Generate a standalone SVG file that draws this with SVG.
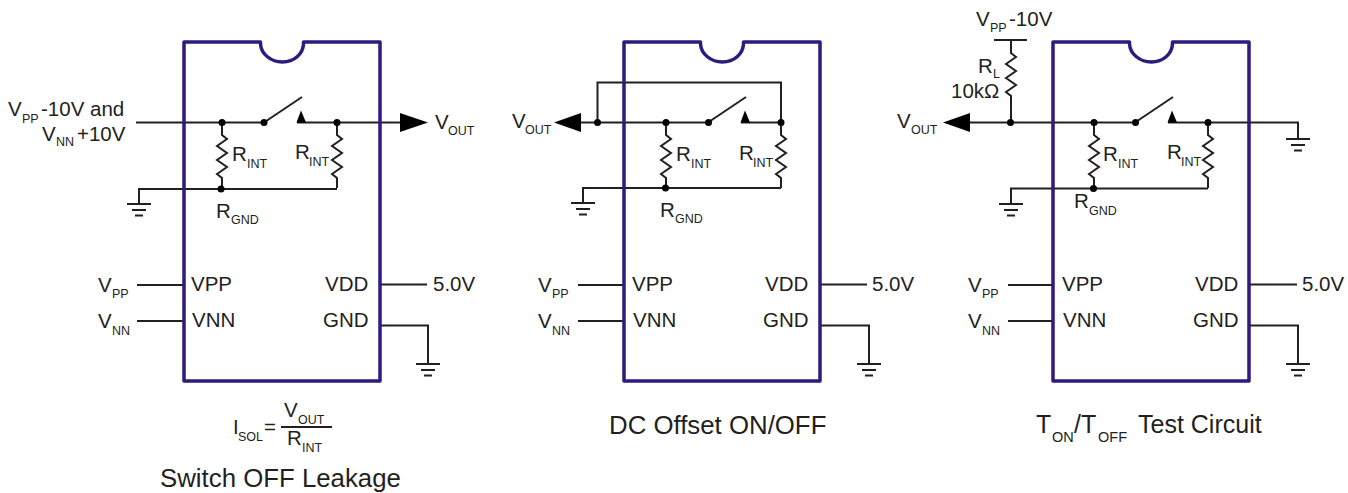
<svg xmlns="http://www.w3.org/2000/svg" width="1348" height="493" viewBox="0 0 1348 493">
<style>
text{font-family:"Liberation Sans",Arial,sans-serif;font-size:20.500px;fill:#231f20}
.s{font-size:12.500px}
.b{font-size:14.500px}
.t{font-size:25.800px}
.c{font-size:25px}
.chip{fill:none;stroke:#2f1a7f;stroke-width:3.500;stroke-linejoin:round}
.w{fill:none;stroke:#231f20;stroke-width:2;stroke-linejoin:miter}
.f{fill:#000;stroke:none}
</style>
<defs>
<g id="gnd"><path class="w" d="M0 0V14M-12 15H12M-7 21H7M-4 26.500H4"/></g>
<path id="res" class="w" d="M0 0V13L5 17L-5 24L5 31L-5 38L5 45L-5 52L0 56V66"/>
<circle id="dot" class="f" r="3.500"/>
<path id="chipbody" class="chip" d="M0 0H76.500V2C77 12 87 20 98.500 20C110 20 119 12 119.500 2V0H196V339H0Z"/>
</defs>
<g id="connectors">
<path class="w" d="M136 122.500H264M297 122.500H402"/>
<path class="w" d="M302 97L264 122.500"/>
<path class="f" d="M296.500 122.500L301 110.500L306 122.500Z"/>
<path class="f" d="M400 113L428 122.500L400 132Z"/>
<use href="#res" x="222" y="122"/><use href="#res" x="337" y="122"/>
<path class="w" d="M139 203V189H337"/><use href="#gnd" x="139" y="189"/>
<use href="#dot" x="222" y="122.500"/><use href="#dot" x="264" y="122.500"/><use href="#dot" x="337" y="122.500"/><use href="#dot" x="221" y="189"/>
<path class="w" d="M137 285H184M137 321H184M380 284.500H427M380 325.500H428V363"/><use href="#gnd" x="428" y="349"/>

<path class="w" d="M579 122.500H708M741 122.500H781M597.500 122V82.500H781V122"/>
<path class="w" d="M746 97L708 122.500"/>
<path class="f" d="M740.500 122.500L745 110.500L750 122.500Z"/>
<path class="f" d="M581 113L554 122.500L581 132Z"/>
<use href="#res" x="666" y="122"/><use href="#res" x="781" y="122"/>
<path class="w" d="M583 203V188H781"/><use href="#gnd" x="583" y="188"/>
<use href="#dot" x="597.500" y="122.500"/><use href="#dot" x="666" y="122.500"/><use href="#dot" x="708.500" y="122.500"/><use href="#dot" x="781" y="122.500"/><use href="#dot" x="665.500" y="188"/>
<path class="w" d="M578 285H624M578 321H624M820 284.500H867M820 325.500H869V363"/><use href="#gnd" x="869" y="349"/>

<path class="w" d="M968 122.500H1135M1168 122.500H1298V138"/>
<path class="w" d="M1173 97L1135 122.500"/>
<path class="f" d="M1167.500 122.500L1172 110.500L1177 122.500Z"/>
<path class="f" d="M970 113L943 122.500L970 132Z"/>
<path class="w" d="M994 40H1027"/>
<use href="#res" x="1011" y="40"/>
<path class="w" d="M1011 106V122"/>
<use href="#res" x="1094" y="122"/><use href="#res" x="1208" y="122"/>
<path class="w" d="M1011 203V188.500H1208"/><use href="#gnd" x="1011" y="189"/>
<use href="#gnd" x="1298" y="124"/>
<use href="#dot" x="1010.500" y="122.500"/><use href="#dot" x="1094" y="122.500"/><use href="#dot" x="1135.500" y="122.500"/><use href="#dot" x="1208" y="122.500"/><use href="#dot" x="1093.500" y="188.500"/>
<path class="w" d="M1008 285H1053M1008 321H1053M1249 284.500H1297M1249 325.500H1298V363"/><use href="#gnd" x="1298" y="349"/>
</g>
<g id="chip1">
<use href="#chipbody" x="184" y="42"/>
<text x="191" y="291">VPP</text><text x="192" y="327">VNN</text><text x="325" y="291">VDD</text><text x="323" y="327">GND</text>
</g>
<g id="chip2">
<use href="#chipbody" x="624" y="42"/>
<text x="632" y="291">VPP</text><text x="633" y="327">VNN</text><text x="765" y="291">VDD</text><text x="763" y="327">GND</text>
</g>
<g id="chip3">
<use href="#chipbody" x="1053" y="42"/>
<text x="1062" y="291">VPP</text><text x="1063" y="327">VNN</text><text x="1195" y="291">VDD</text><text x="1193" y="327">GND</text>
</g>
<g id="labels1">
<text x="8" y="116">V</text><text class="s" x="22" y="123">PP</text><text x="41" y="116">-10V and</text>
<text x="42" y="141">V</text><text class="s" x="56" y="146">NN</text><text x="77" y="141">+10V</text>
<text x="435" y="129">V</text><text class="s" x="448" y="135">OUT</text>
<text x="232" y="161">R</text><text class="s" x="247" y="168">INT</text>
<text x="295" y="159">R</text><text class="s" x="309" y="166">INT</text>
<text x="216" y="218">R</text><text class="s" x="231" y="224">GND</text>
<text x="98" y="292">V</text><text class="s" x="112" y="298">PP</text>
<text x="98" y="328">V</text><text class="s" x="112" y="335">NN</text>
<text x="433" y="291">5.0V</text>
<text x="233" y="434">I</text><text class="s" x="238" y="441">SOL</text><text x="264" y="434">=</text>
<path class="w" d="M281 427H332"/>
<text x="284" y="417">V</text><text class="s" x="298" y="424">OUT</text>
<text x="287" y="445">R</text><text class="s" x="302" y="452">INT</text>
<text class="t" x="160" y="487">Switch OFF Leakage</text>
</g>
<g id="labels2">
<text x="512" y="128">V</text><text class="s" x="525" y="134">OUT</text>
<text x="676" y="161">R</text><text class="s" x="691" y="168">INT</text>
<text x="739" y="160">R</text><text class="s" x="753" y="167">INT</text>
<text x="660" y="217">R</text><text class="s" x="675" y="223">GND</text>
<text x="538" y="292">V</text><text class="s" x="552" y="298">PP</text>
<text x="538" y="328">V</text><text class="s" x="552" y="335">NN</text>
<text x="872" y="291">5.0V</text>
<text class="t" x="609" y="434">DC Offset ON/OFF</text>
</g>
<g id="labels3">
<text x="976" y="26">V</text><text class="s" x="990" y="32">PP</text><text x="1009" y="26">-10V</text>
<text x="978" y="73">R</text><text class="s" x="993" y="77.500">L</text>
<text x="951" y="97.500">10kΩ</text>
<text x="897" y="128">V</text><text class="s" x="911" y="134">OUT</text>
<text x="1103" y="161">R</text><text class="s" x="1118" y="168">INT</text>
<text x="1167" y="159">R</text><text class="s" x="1181" y="166">INT</text>
<text x="1074" y="208">R</text><text class="s" x="1089" y="215">GND</text>
<text x="968" y="292">V</text><text class="s" x="982" y="298">PP</text>
<text x="968" y="328">V</text><text class="s" x="982" y="335">NN</text>
<text x="1302" y="291">5.0V</text>
<text class="c" x="1036" y="433">T</text><text class="b" x="1052" y="441.500">ON</text><text class="c" x="1074" y="433">/T</text><text class="b" x="1098" y="441.500">OFF</text><text class="c" x="1138" y="433">Test Circuit</text>
</g>
</svg>
